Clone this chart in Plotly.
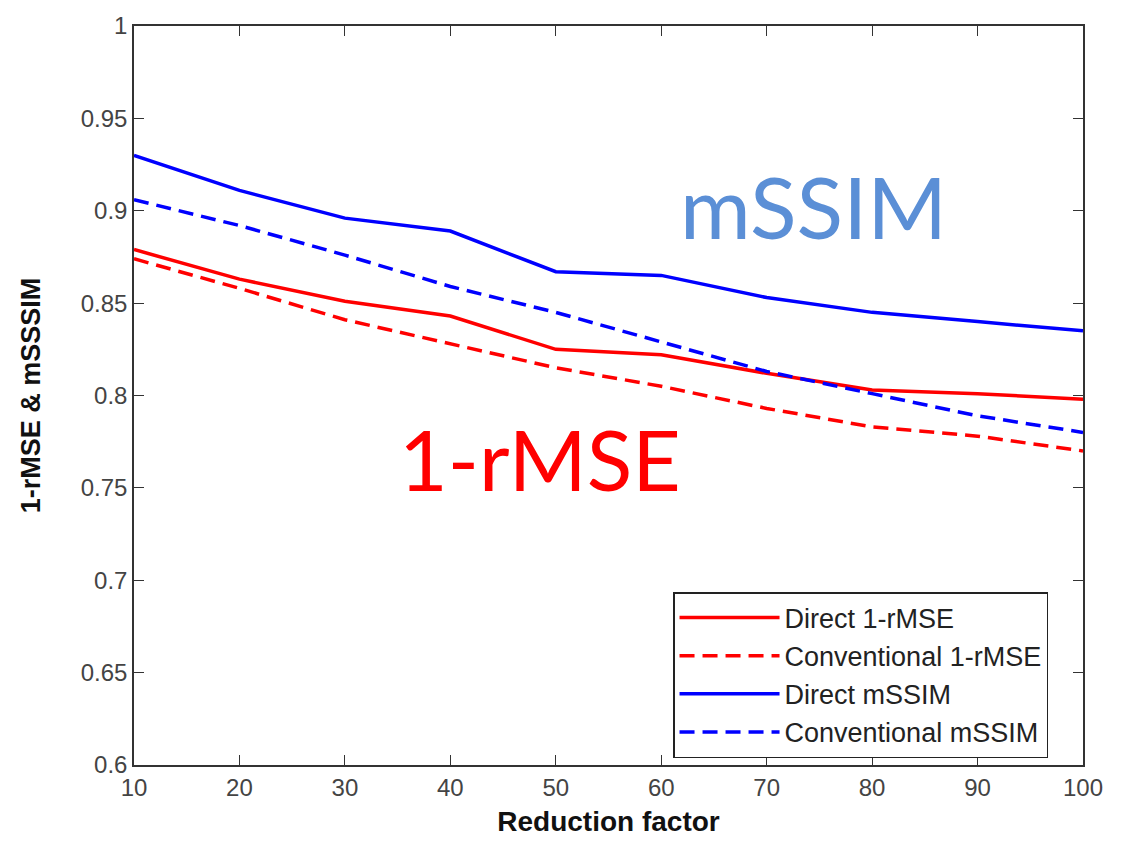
import plotly.graph_objects as go

reduction = [10, 20, 30, 40, 50, 60, 70, 80, 90, 100]
direct_rmse = [0.879, 0.863, 0.851, 0.843, 0.825, 0.822, 0.812, 0.803, 0.801, 0.798]
conv_rmse = [0.874, 0.858, 0.841, 0.828, 0.815, 0.805, 0.793, 0.783, 0.778, 0.770]
direct_ssim = [0.930, 0.911, 0.896, 0.889, 0.867, 0.865, 0.853, 0.845, 0.840, 0.835]
conv_ssim = [0.906, 0.892, 0.876, 0.859, 0.845, 0.829, 0.813, 0.801, 0.789, 0.780]

xticks = [10, 20, 30, 40, 50, 60, 70, 80, 90, 100]
yticks = [0.6, 0.65, 0.7, 0.75, 0.8, 0.85, 0.9, 0.95, 1]
ytick_text = ["0.6", "0.65", "0.7", "0.75", "0.8", "0.85", "0.9", "0.95", "1"]

RED = "#ff0000"
BLUE = "#0000ff"
DASH = "15px,8px"
FONT = "Liberation Sans, Arial"

fig = go.Figure()
fig.add_trace(go.Scatter(x=reduction, y=direct_rmse, mode="lines", name="Direct 1-rMSE",
                         line=dict(color=RED, width=3.5)))
fig.add_trace(go.Scatter(x=reduction, y=conv_rmse, mode="lines", name="Conventional 1-rMSE",
                         line=dict(color=RED, width=3.5, dash=DASH)))
fig.add_trace(go.Scatter(x=reduction, y=direct_ssim, mode="lines", name="Direct mSSIM",
                         line=dict(color=BLUE, width=3.5)))
fig.add_trace(go.Scatter(x=reduction, y=conv_ssim, mode="lines", name="Conventional mSSIM",
                         line=dict(color=BLUE, width=3.5, dash=DASH)))

axis_common = dict(showgrid=False, zeroline=False, showline=True, linecolor="#333",
                   linewidth=1.5, mirror="ticks", ticks="inside", ticklen=10,
                   tickcolor="#333", tickwidth=1.2,
                   tickfont=dict(family=FONT, size=24, color="#444"))

fig.update_xaxes(range=[10, 100], tickvals=xticks, **axis_common,
                 title=dict(text="<b>Reduction factor</b>",
                            font=dict(family=FONT, size=28, color="#111"),
                            standoff=12))
fig.update_yaxes(range=[0.6, 1], tickvals=yticks, ticktext=ytick_text, **axis_common,
                 title=dict(text="<b>1-rMSE &amp; mSSSIM</b>",
                            font=dict(family=FONT, size=27, color="#111"),
                            standoff=32))

fig.add_annotation(x=0.716, y=0.757, xref="paper", yref="paper", text="mSSIM",
                   xanchor="center", yanchor="middle",
                   showarrow=False, font=dict(family="Lato, Open Sans", size=86, color="#5b8fd6"))
fig.add_annotation(x=0.428, y=0.415, xref="paper", yref="paper", text="1-rMSE",
                   xanchor="center", yanchor="middle",
                   showarrow=False, font=dict(family="Lato, Open Sans", size=84, color="#ff0000"))

fig.update_layout(
    width=1124, height=849,
    margin=dict(l=134, r=41, t=18, b=84),
    paper_bgcolor="white", plot_bgcolor="white",
    legend=dict(x=0.568, y=0.234, xanchor="left", yanchor="top",
                bordercolor="#222", borderwidth=1.5, bgcolor="white",
                font=dict(family=FONT, size=27, color="#222"),
                tracegroupgap=0, itemwidth=100),
    showlegend=True,
)

fig.write_html("out.html")
